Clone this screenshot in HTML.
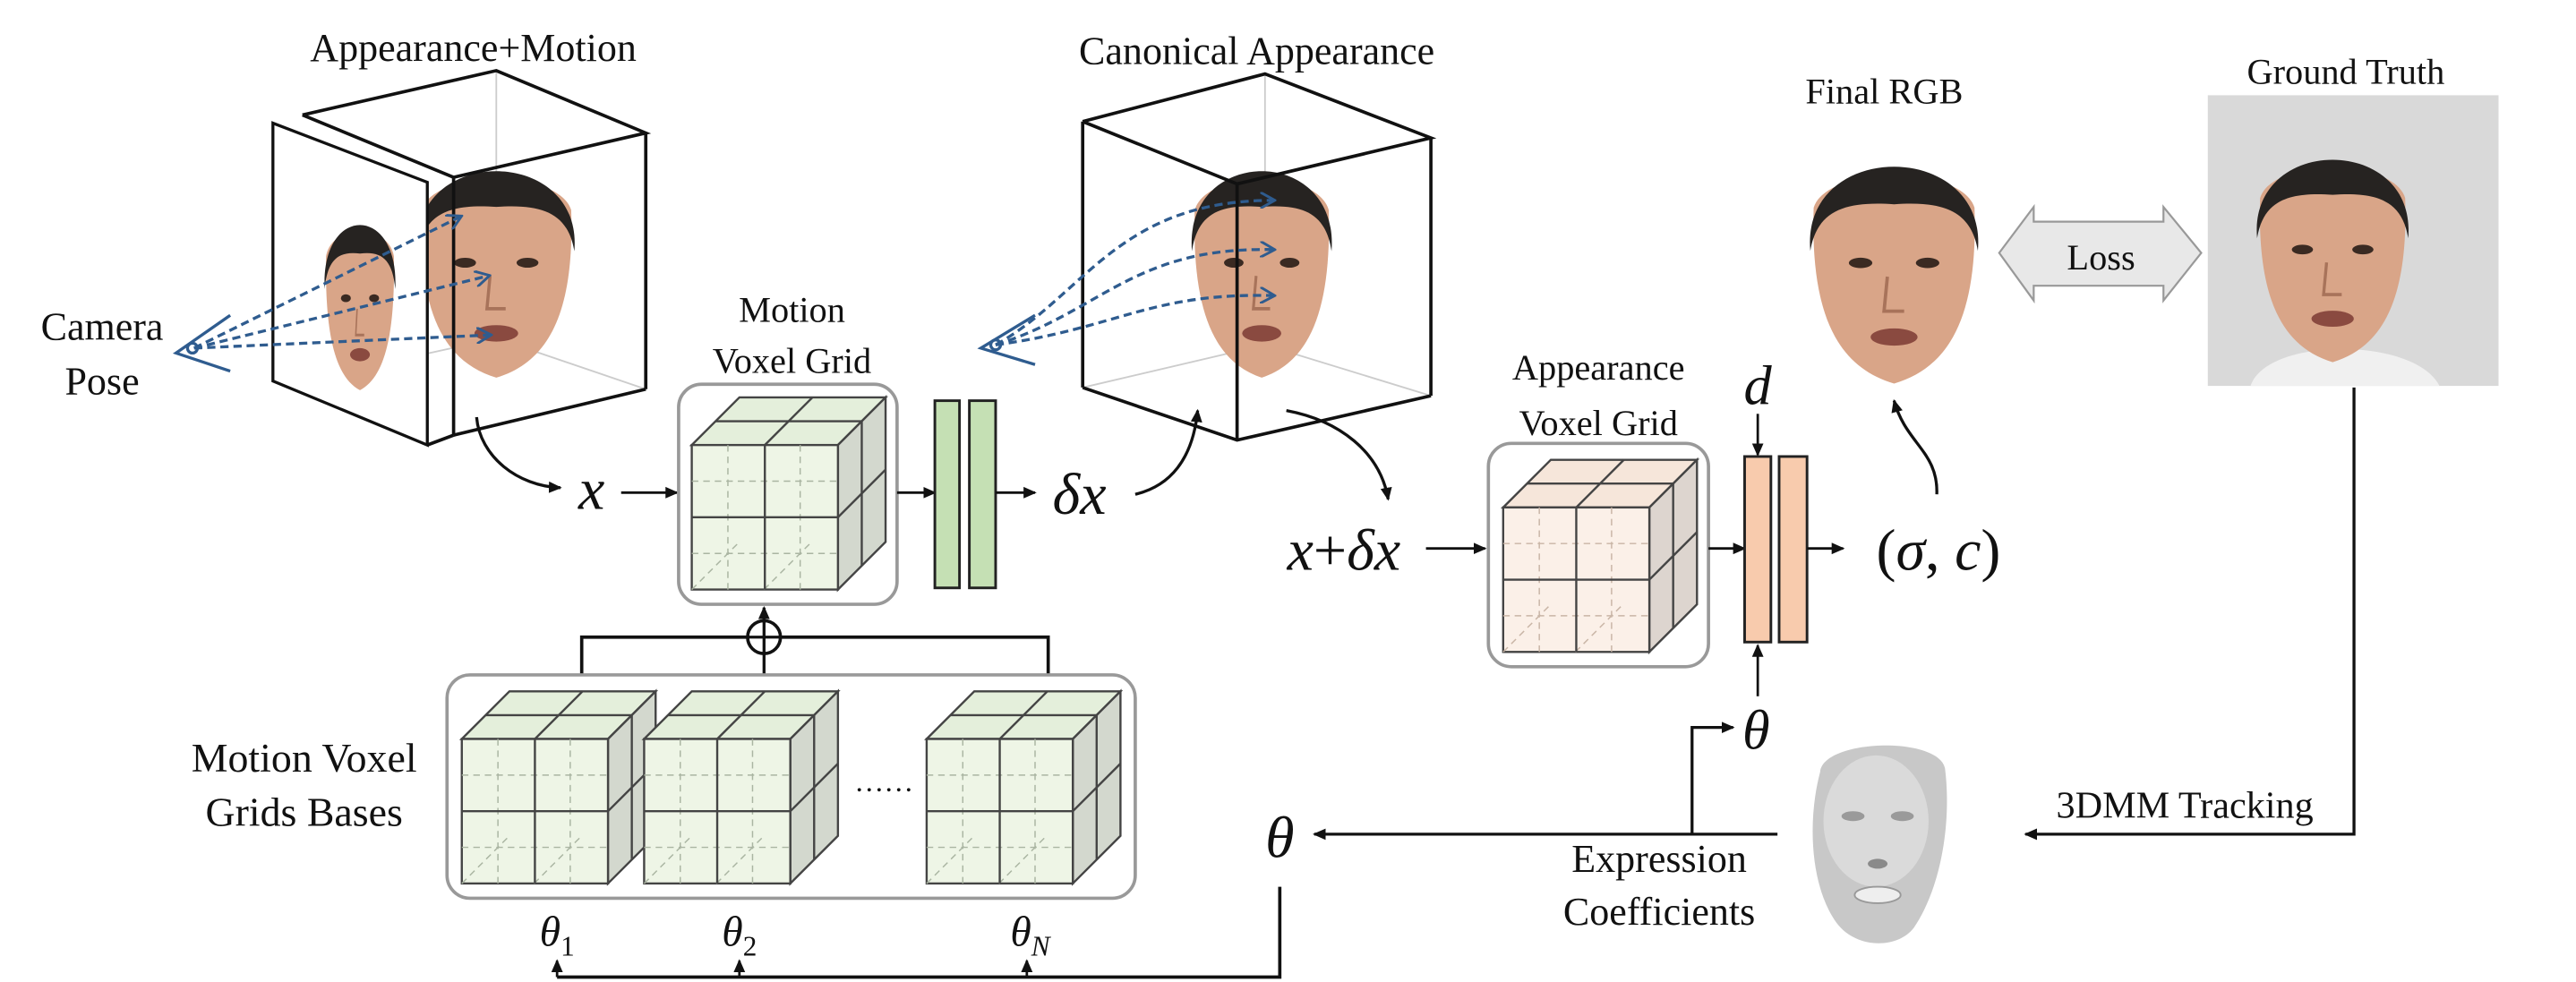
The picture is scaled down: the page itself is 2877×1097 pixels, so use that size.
<!DOCTYPE html>
<html><head><meta charset="utf-8"><style>
html,body{margin:0;padding:0;background:#fff;}
svg{display:block}
svg text{font-family:"Liberation Serif","Times New Roman",Times,"Nimbus Roman","DejaVu Serif",serif;fill:#111}
.m{font-style:italic}
</style></head><body>
<svg width="2877" height="1097" viewBox="0 0 1568 598" xmlns="http://www.w3.org/2000/svg">
<defs>
<marker id="ah" markerWidth="8" markerHeight="8" refX="7" refY="4" orient="auto" markerUnits="userSpaceOnUse">
<path d="M0,0.5 L8,4 L0,7.5 Z" fill="#111"/></marker>
<marker id="bh" markerWidth="10" markerHeight="10" refX="8" refY="5" orient="auto" markerUnits="userSpaceOnUse">
<path d="M0,0 L9,5 L0,10" fill="none" stroke="#2f5c8f" stroke-width="1.6"/></marker>
<g id="cg">
<polygon points="0,0 29,-29 118,-29 89,0" fill="#e4efdb" stroke="#444" stroke-width="1.3"/>
<polygon points="89,0 118,-29 118,59 89,88" fill="#d3d8ce" stroke="#444" stroke-width="1.3"/>
<rect x="0" y="0" width="89" height="88" fill="#eef5e6" stroke="#444" stroke-width="1.3"/>
<g stroke="#aab5a2" stroke-width="0.8" stroke-dasharray="4,3" fill="none">
<line x1="0" y1="22" x2="89" y2="22"/><line x1="0" y1="66" x2="89" y2="66"/>
<line x1="22" y1="0" x2="22" y2="88"/><line x1="66" y1="0" x2="66" y2="88"/>
<line x1="0" y1="88" x2="29" y2="59"/><line x1="44" y1="88" x2="73" y2="59"/>
</g>
<g stroke="#444" stroke-width="1.3">
<line x1="44.5" y1="0" x2="44.5" y2="88"/><line x1="0" y1="44" x2="89" y2="44"/>
<line x1="14.5" y1="-14.5" x2="103.5" y2="-14.5"/><line x1="44.5" y1="0" x2="73.5" y2="-29"/>
<line x1="103.5" y1="-14.5" x2="103.5" y2="73.5"/><line x1="89" y1="44" x2="118" y2="15"/>
</g></g>
<g id="co">
<polygon points="0,0 29,-29 118,-29 89,0" fill="#f6e6da" stroke="#444" stroke-width="1.3"/>
<polygon points="89,0 118,-29 118,59 89,88" fill="#ddd5cf" stroke="#444" stroke-width="1.3"/>
<rect x="0" y="0" width="89" height="88" fill="#fbf0e8" stroke="#444" stroke-width="1.3"/>
<g stroke="#c9b5a6" stroke-width="0.8" stroke-dasharray="4,3" fill="none">
<line x1="0" y1="22" x2="89" y2="22"/><line x1="0" y1="66" x2="89" y2="66"/>
<line x1="22" y1="0" x2="22" y2="88"/><line x1="66" y1="0" x2="66" y2="88"/>
<line x1="0" y1="88" x2="29" y2="59"/><line x1="44" y1="88" x2="73" y2="59"/>
</g>
<g stroke="#444" stroke-width="1.3">
<line x1="44.5" y1="0" x2="44.5" y2="88"/><line x1="0" y1="44" x2="89" y2="44"/>
<line x1="14.5" y1="-14.5" x2="103.5" y2="-14.5"/><line x1="44.5" y1="0" x2="73.5" y2="-29"/>
<line x1="103.5" y1="-14.5" x2="103.5" y2="73.5"/><line x1="89" y1="44" x2="118" y2="15"/>
</g></g>
<g id="face">
<path d="M-48,-30 C-50,30 -35,62 0,72 C35,62 50,30 48,-30 C40,-55 -40,-55 -48,-30 Z" fill="#d9a588"/>
<path d="M-50,-5 C-56,-70 56,-70 50,-5 C46,-28 30,-34 0,-32 C-30,-34 -46,-28 -50,-5Z" fill="#262321"/>
<ellipse cx="-20" cy="2" rx="7" ry="3" fill="#3a2a22"/><ellipse cx="20" cy="2" rx="7" ry="3" fill="#3a2a22"/>
<path d="M-4,10 L-6,30 L6,30" fill="none" stroke="#a8735a" stroke-width="2"/>
<ellipse cx="0" cy="45" rx="14" ry="5" fill="#8a4a40"/>
</g>
</defs>

<!-- Appearance+Motion -->
<text x="288" y="37" font-size="24" text-anchor="middle">Appearance+Motion</text>
<g stroke="#ccc" stroke-width="1"><line x1="302" y1="43" x2="302" y2="206"/><line x1="302" y1="206" x2="393" y2="237"/><line x1="302" y1="206" x2="184" y2="232"/></g>
<use href="#face" transform="translate(302,158) scale(0.95,1)"/>
<polygon points="166,75 260,111 260,271 166,232" fill="#fff" stroke="#111" stroke-width="1.8"/>
<use href="#face" transform="translate(219,180) scale(0.43,0.8)"/>
<g fill="none" stroke="#111" stroke-width="2">
<polyline points="184,70 302,43 393,81 276,108 184,70"/>
<line x1="393" y1="81" x2="393" y2="237"/><line x1="276" y1="108" x2="276" y2="265"/>
<line x1="276" y1="265" x2="393" y2="237"/><line x1="260" y1="271" x2="276" y2="265"/>
</g>
<text x="62" y="207" font-size="24" text-anchor="middle">Camera</text>
<text x="62" y="240" font-size="24" text-anchor="middle">Pose</text>
<g stroke="#2f5c8f" stroke-width="1.8" fill="none">
<path d="M140,192 L107,215 L140,226"/><circle cx="117" cy="212" r="3"/>
</g>
<g stroke="#2f5c8f" stroke-width="1.8" fill="none" stroke-dasharray="5,3" marker-end="url(#bh)">
<line x1="118" y1="212" x2="280" y2="132"/><line x1="118" y1="212" x2="297" y2="168"/><line x1="118" y1="212" x2="298" y2="204"/>
</g>
<path d="M290,254 C292,278 315,296 341,297" fill="none" stroke="#111" stroke-width="1.8" marker-end="url(#ah)"/>
<text x="360" y="310" font-size="36" class="m" text-anchor="middle">x</text>
<line x1="378" y1="300" x2="412" y2="300" stroke="#111" stroke-width="1.6" marker-end="url(#ah)"/>

<!-- Motion voxel grid -->
<text x="482" y="196" font-size="22" text-anchor="middle">Motion</text>
<text x="482" y="227" font-size="22" text-anchor="middle">Voxel Grid</text>
<rect x="413" y="234" width="133" height="134" rx="14" fill="#fff" stroke="#999" stroke-width="2"/>
<use href="#cg" transform="translate(421,271)"/>
<line x1="546" y1="300" x2="569" y2="300" stroke="#111" stroke-width="1.6" marker-end="url(#ah)"/>
<rect x="569" y="244" width="15" height="114" fill="#c5e0b4" stroke="#222" stroke-width="1.6"/>
<rect x="590" y="244" width="16" height="114" fill="#c5e0b4" stroke="#222" stroke-width="1.6"/>
<line x1="606" y1="300" x2="630" y2="300" stroke="#111" stroke-width="1.6" marker-end="url(#ah)"/>
<text x="657" y="313" font-size="36" class="m" text-anchor="middle">δx</text>
<path d="M691,301 C712,296 726,280 729,250" fill="none" stroke="#111" stroke-width="1.8" marker-end="url(#ah)"/>

<!-- sum -->
<line x1="465" y1="420" x2="465" y2="370" stroke="#111" stroke-width="1.8" marker-end="url(#ah)"/>
<circle cx="465" cy="388" r="10" fill="#fff" stroke="#111" stroke-width="2"/>
<line x1="455" y1="388" x2="475" y2="388" stroke="#111" stroke-width="1.8"/>
<line x1="465" y1="378" x2="465" y2="398" stroke="#111" stroke-width="1.8"/>
<polyline points="354,420 354,388 455,388" fill="none" stroke="#111" stroke-width="2"/>
<polyline points="638,420 638,388 475,388" fill="none" stroke="#111" stroke-width="2"/>

<!-- bases -->
<text x="185" y="470" font-size="25" text-anchor="middle">Motion Voxel</text>
<text x="185" y="503" font-size="25" text-anchor="middle">Grids Bases</text>
<rect x="272" y="411" width="419" height="136" rx="14" fill="#fff" stroke="#999" stroke-width="2"/>
<use href="#cg" transform="translate(281,450)"/>
<use href="#cg" transform="translate(392,450)"/>
<use href="#cg" transform="translate(564,450)"/>
<text x="538" y="482" font-size="18" text-anchor="middle">……</text>
<text x="339" y="576" font-size="26" class="m" text-anchor="middle">θ<tspan font-size="17" dy="6" font-style="normal">1</tspan></text>
<text x="450" y="576" font-size="26" class="m" text-anchor="middle">θ<tspan font-size="17" dy="6" font-style="normal">2</tspan></text>
<text x="627" y="576" font-size="26" class="m" text-anchor="middle">θ<tspan font-size="17" dy="6">N</tspan></text>
<polyline points="779,540 779,595 339,595" fill="none" stroke="#111" stroke-width="2"/>
<g stroke="#111" stroke-width="1.5" marker-end="url(#ah)">
<line x1="339" y1="595" x2="339" y2="585"/><line x1="450" y1="595" x2="450" y2="585"/><line x1="625" y1="595" x2="625" y2="585"/>
</g>

<!-- Canonical Appearance -->
<text x="765" y="39" font-size="24" text-anchor="middle">Canonical Appearance</text>
<g stroke="#ccc" stroke-width="1"><line x1="770" y1="45" x2="770" y2="210"/><line x1="770" y1="210" x2="871" y2="241"/><line x1="770" y1="210" x2="659" y2="236"/></g>
<use href="#face" transform="translate(768,158) scale(0.85,1)"/>
<g fill="none" stroke="#111" stroke-width="2">
<polyline points="659,74 770,45 871,84 753,112 659,74"/>
<line x1="659" y1="74" x2="659" y2="236"/><line x1="871" y1="84" x2="871" y2="241"/><line x1="753" y1="112" x2="753" y2="268"/>
<polyline points="659,236 753,268 871,241"/>
</g>
<g stroke="#2f5c8f" stroke-width="1.8" fill="none">
<path d="M630,192 L597,212 L630,222"/><circle cx="606" cy="210" r="3"/>
</g>
<g stroke="#2f5c8f" stroke-width="1.8" fill="none" stroke-dasharray="5,3" marker-end="url(#bh)">
<path d="M606,210 C660,180 680,122 775,122"/><path d="M606,210 C670,190 690,150 775,152"/><path d="M606,210 C680,200 700,178 775,180"/>
</g>
<path d="M783,250 C815,256 840,275 845,304" fill="none" stroke="#111" stroke-width="1.8" marker-end="url(#ah)"/>
<text x="818" y="347" font-size="36" class="m" text-anchor="middle">x<tspan font-style="normal">+</tspan>δx</text>
<line x1="868" y1="334" x2="904" y2="334" stroke="#111" stroke-width="1.6" marker-end="url(#ah)"/>

<!-- Appearance voxel -->
<text x="973" y="231" font-size="22" text-anchor="middle">Appearance</text>
<text x="973" y="265" font-size="22" text-anchor="middle">Voxel Grid</text>
<rect x="906" y="270" width="134" height="136" rx="14" fill="#fff" stroke="#999" stroke-width="2"/>
<use href="#co" transform="translate(915,309)"/>
<line x1="1040" y1="334" x2="1062" y2="334" stroke="#111" stroke-width="1.6" marker-end="url(#ah)"/>
<rect x="1062" y="278" width="16" height="113" fill="#f8cbad" stroke="#222" stroke-width="1.6"/>
<rect x="1083" y="278" width="17" height="113" fill="#f8cbad" stroke="#222" stroke-width="1.6"/>
<line x1="1100" y1="334" x2="1122" y2="334" stroke="#111" stroke-width="1.6" marker-end="url(#ah)"/>
<text x="1180" y="347" font-size="36" text-anchor="middle">(<tspan class="m">σ</tspan>, <tspan class="m">c</tspan>)</text>
<text x="1070" y="246" font-size="34" class="m" text-anchor="middle">d</text>
<line x1="1070" y1="252" x2="1070" y2="277" stroke="#111" stroke-width="1.5" marker-end="url(#ah)"/>
<text x="1069" y="456" font-size="34" class="m" text-anchor="middle">θ</text>
<line x1="1070" y1="424" x2="1070" y2="393" stroke="#111" stroke-width="1.5" marker-end="url(#ah)"/>
<polyline points="1030,508 1030,443 1055,443" fill="none" stroke="#111" stroke-width="1.8" marker-end="url(#ah)"/>
<line x1="1082" y1="508" x2="800" y2="508" stroke="#111" stroke-width="1.8" marker-end="url(#ah)"/>
<text x="779" y="522" font-size="36" class="m" text-anchor="middle">θ</text>
<text x="1010" y="531" font-size="24" text-anchor="middle">Expression</text>
<text x="1010" y="563" font-size="24" text-anchor="middle">Coefficients</text>

<!-- 3D face -->
<path d="M1108,470 C1110,450 1180,448 1184,468 C1188,500 1182,540 1165,565 C1155,578 1130,578 1118,562 C1102,540 1100,500 1108,470Z" fill="#c8c8c8"/>
<ellipse cx="1142" cy="500" rx="32" ry="40" fill="#dadada"/>
<ellipse cx="1128" cy="497" rx="7" ry="3" fill="#9a9a9a"/><ellipse cx="1158" cy="497" rx="7" ry="3" fill="#9a9a9a"/>
<ellipse cx="1143" cy="526" rx="6" ry="3" fill="#8a8a8a"/>
<ellipse cx="1143" cy="545" rx="14" ry="5" fill="#eee" stroke="#999"/>

<!-- Final RGB -->
<text x="1147" y="63" font-size="22" text-anchor="middle">Final RGB</text>
<use href="#face" transform="translate(1153,158) scale(1.02,1.05)"/>
<path d="M1179,301 C1180,275 1160,270 1153,244" fill="none" stroke="#111" stroke-width="1.8" marker-end="url(#ah)"/>
<polygon points="1217,154 1238,126 1238,135 1317,135 1317,126 1340,154 1317,183 1317,174 1238,174 1238,183" fill="#e8e8e8" stroke="#999" stroke-width="1.2"/>
<text x="1279" y="164" font-size="22" text-anchor="middle">Loss</text>

<!-- Ground truth -->
<text x="1428" y="51" font-size="22" text-anchor="middle">Ground Truth</text>
<rect x="1344" y="58" width="177" height="177" fill="#d9d9d9"/>
<path d="M1370,235 C1380,205 1470,205 1485,235Z" fill="#f0f0f0"/>
<use href="#face" transform="translate(1420,150) scale(0.92,0.98)"/>
<polyline points="1433,236 1433,508 1233,508" fill="none" stroke="#111" stroke-width="1.8" marker-end="url(#ah)"/>
<text x="1330" y="498" font-size="23" text-anchor="middle">3DMM Tracking</text>
</svg>
</body></html>
